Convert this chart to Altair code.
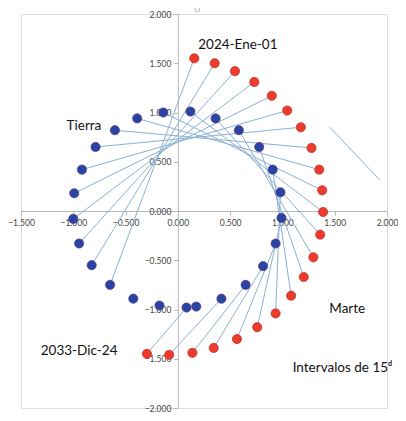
import altair as alt
import pandas as pd

# Tierra (Earth) positions joined to Marte, in order
earth_x = [-0.648, -0.824, -0.944, -1.000, -0.991, -0.917, -0.787, -0.602, -0.389, -0.139,
           0.120, 0.361, 0.583, 0.778, 0.907, 0.981, 0.991, 0.935, 0.815, 0.648, 0.417, 0.083]
earth_y = [-0.75, -0.55, -0.33, -0.08, 0.18, 0.42, 0.65, 0.82, 0.94, 1.00,
           1.01, 0.94, 0.82, 0.65, 0.42, 0.19, -0.07, -0.33, -0.56, -0.75, -0.89, -0.98]
# remaining Tierra positions (no line)
earth_extra_x = [0.176, -0.176, -0.426]
earth_extra_y = [-0.97, -0.96, -0.89]
# Marte (Mars) positions
mars_x = [0.157, 0.352, 0.546, 0.731, 0.898, 1.046, 1.176, 1.278, 1.352, 1.380, 1.389,
          1.361, 1.296, 1.204, 1.083, 0.935, 0.759, 0.565, 0.343, 0.139, -0.083, -0.296]
mars_y = [1.55, 1.50, 1.42, 1.31, 1.17, 1.02, 0.85, 0.64, 0.42, 0.21, -0.01,
          -0.24, -0.47, -0.67, -0.86, -1.04, -1.18, -1.30, -1.39, -1.44, -1.46, -1.45]
# stray segment and marker
stray_x, stray_y, stray_x2, stray_y2 = [1.454], [0.85], [1.926], [0.32]
stray_pt_x, stray_pt_y = [0.185], [2.045]

label_text = ["2024-Ene-01", "Tierra", "2033-Dic-24", "Marte", "Intervalos de 15ᵈ"]
label_x = [0.574, -0.898, -0.944, 1.620, 1.574]
label_y = [1.69, 0.86, -1.42, -0.99, -1.59]

ticks = [-2.0, -1.5, -1.0, -0.5, 0.0, 0.5, 1.0, 1.5, 2.0]

W, H = 366, 394
XD, YD = [-1.5, 2.0], [-2.0, 2.0]

xs = alt.Scale(domain=XD, nice=False, zero=False)
ys = alt.Scale(domain=YD, nice=False, zero=False)

axis_common = dict(grid=False, format=".3f", labelFont="Lato", labelFontSize=8.5,
                   labelColor="#454545", domainColor="#b8b8b8", tickColor="#b8b8b8",
                   tickSize=4, title=None, labelFlush=False, labelOverlap=False)

x_off = -(H * (0 - YD[0]) / (YD[1] - YD[0]))
y_off = -(W * (0 - XD[0]) / (XD[1] - XD[0]))

xax = alt.Axis(values=[v for v in ticks if XD[0] <= v <= XD[1]], offset=x_off, labelPadding=3, **axis_common)
yax = alt.Axis(values=ticks, offset=y_off, labelPadding=3, **axis_common)

pairs = pd.DataFrame({"ex": earth_x, "ey": earth_y, "mx": mars_x, "my": mars_y})
earth_all = pd.DataFrame({"x": earth_x + earth_extra_x, "y": earth_y + earth_extra_y})
mars = pd.DataFrame({"x": mars_x, "y": mars_y})
stray = pd.DataFrame({"x": stray_x, "y": stray_y, "x2": stray_x2, "y2": stray_y2})
stray_pt = pd.DataFrame({"x": stray_pt_x, "y": stray_pt_y})
labels = pd.DataFrame({"t": label_text, "x": label_x, "y": label_y})

lines = alt.Chart(pairs).mark_rule(color="#8ab0d2", strokeWidth=1).encode(
    x=alt.X("mx:Q", scale=xs, axis=xax), y=alt.Y("my:Q", scale=ys, axis=yax),
    x2="ex:Q", y2="ey:Q")

stray_line = alt.Chart(stray).mark_rule(color="#8ab0d2", strokeWidth=1).encode(
    x=alt.X("x:Q", scale=xs), y=alt.Y("y:Q", scale=ys), x2="x2:Q", y2="y2:Q")

stray_mark = alt.Chart(stray_pt).mark_point(shape="circle", size=20, filled=False,
                                            color="#9ab8d8", strokeWidth=1.2).encode(
    x=alt.X("x:Q", scale=xs), y=alt.Y("y:Q", scale=ys))

earth_pts = alt.Chart(earth_all).mark_circle(size=85, color="#2a44a4", opacity=1,
                                            stroke="#5a3a80", strokeWidth=0.7).encode(
    x=alt.X("x:Q", scale=xs), y=alt.Y("y:Q", scale=ys))

mars_pts = alt.Chart(mars).mark_circle(size=85, color="#ec3a2d", opacity=1,
                                      stroke="#b8302a", strokeWidth=0.7).encode(
    x=alt.X("x:Q", scale=xs), y=alt.Y("y:Q", scale=ys))

texts = alt.Chart(labels).mark_text(font="Lato", fontSize=13.5, color="#111111").encode(
    x=alt.X("x:Q", scale=xs), y=alt.Y("y:Q", scale=ys), text="t:N")

chart = alt.layer(lines, stray_line, stray_mark, earth_pts, mars_pts, texts).properties(
    width=W, height=H, autosize="none",
    padding={"left": 13, "top": 6, "right": 11, "bottom": 5},
).configure_view(stroke=None).configure(background="white")

chart.save("out.html", embed_options={"renderer": "svg", "actions": False})
